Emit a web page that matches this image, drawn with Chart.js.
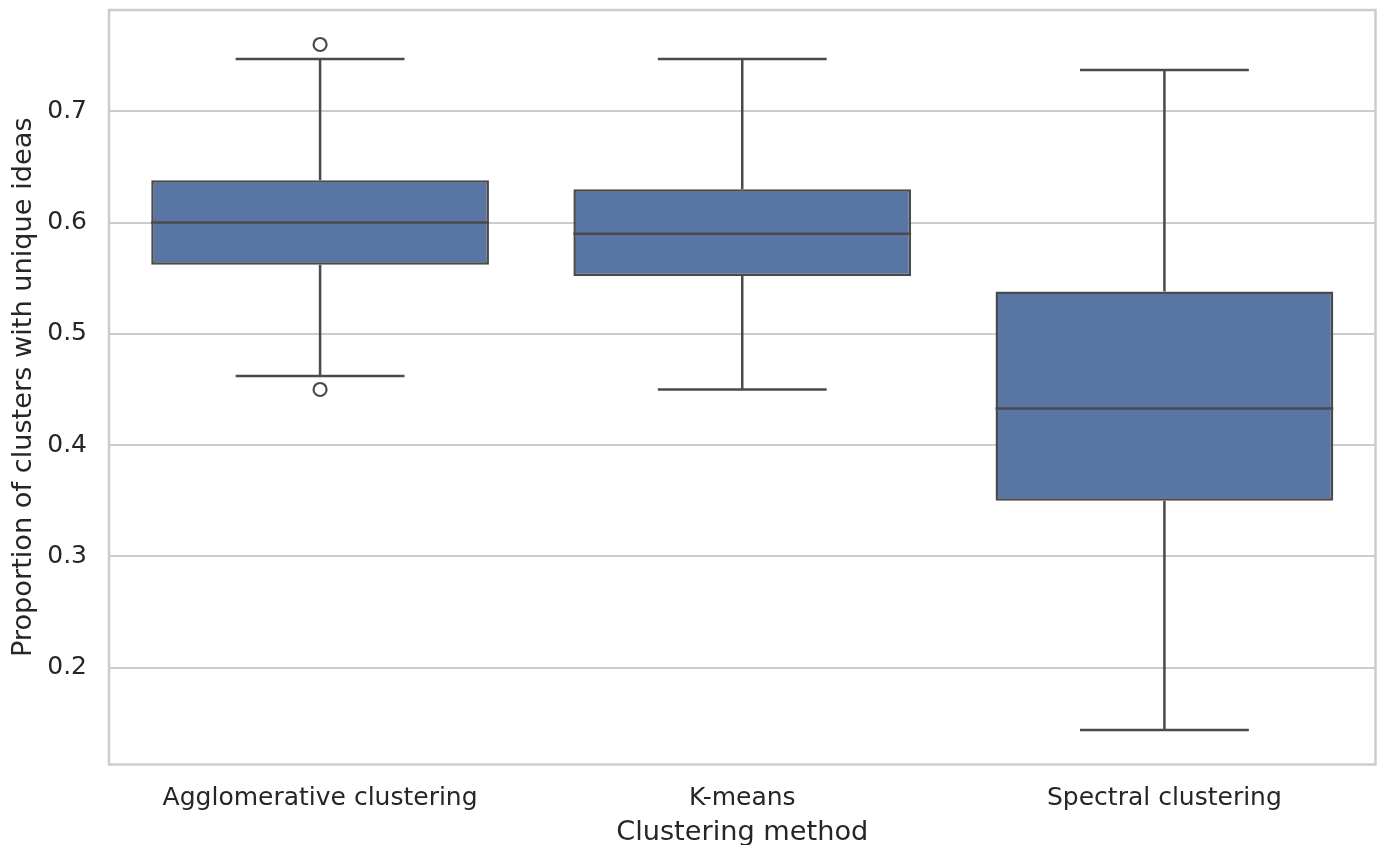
<!DOCTYPE html>
<html>
<head>
<meta charset="utf-8">
<title>Proportion of clusters with unique ideas by clustering method</title>
<script src="https://cdn.jsdelivr.net/npm/chart.js@4.4.1/dist/chart.umd.min.js"></script>
<style>
  html, body { margin: 0; padding: 0; background: #ffffff; }
  #wrap { width: 1379px; height: 845px; }
</style>
</head>
<body>
<div id="wrap"><canvas id="chart" width="1379" height="845"></canvas></div>
<script>
// Five-number summaries per clustering method
const categories  = ['Agglomerative clustering', 'K-means', 'Spectral clustering'];
const whiskerLow  = [0.462, 0.450, 0.144];
const quartile1   = [0.562, 0.552, 0.350];
const medians     = [0.600, 0.590, 0.433];
const quartile3   = [0.638, 0.630, 0.538];
const whiskerHigh = [0.747, 0.747, 0.737];

// Points beyond the whiskers
const outlierCategory = ['Agglomerative clustering', 'Agglomerative clustering'];
const outlierValues   = [0.760, 0.450];

// Value axis
const yTicks = [0.2, 0.3, 0.4, 0.5, 0.6, 0.7];
const yMin = 0.113;
const yMax = 0.791;

const BOX_FILL = '#5975a4';
const LINE = '#4a4a4a';
const GRID = '#cccccc';
const TEXT = '#262626';
const FONT = "'DejaVu Sans', sans-serif";

// Whiskers, caps and median lines, placed through the chart's scales
const boxPlotLines = {
  id: 'boxPlotLines',
  afterDatasetsDraw(chart) {
    const ctx = chart.ctx;
    const xs = chart.scales.x;
    const ys = chart.scales.y;
    const meta = chart.getDatasetMeta(0);
    ctx.save();
    ctx.strokeStyle = LINE;
    ctx.lineWidth = 2.5;
    ctx.lineCap = 'butt';
    categories.forEach((cat, i) => {
      const cx = xs.getPixelForValue(i);
      const half = meta.data[i].width / 2;
      const capHalf = half / 2;
      const yLo = ys.getPixelForValue(whiskerLow[i]);
      const yQ1 = ys.getPixelForValue(quartile1[i]);
      const yMed = ys.getPixelForValue(medians[i]);
      const yQ3 = ys.getPixelForValue(quartile3[i]);
      const yHi = ys.getPixelForValue(whiskerHigh[i]);
      ctx.beginPath();
      // whiskers
      ctx.moveTo(cx, yQ3); ctx.lineTo(cx, yHi);
      ctx.moveTo(cx, yQ1); ctx.lineTo(cx, yLo);
      // caps
      ctx.moveTo(cx - capHalf, yHi); ctx.lineTo(cx + capHalf, yHi);
      ctx.moveTo(cx - capHalf, yLo); ctx.lineTo(cx + capHalf, yLo);
      // median
      ctx.moveTo(cx - half, yMed); ctx.lineTo(cx + half, yMed);
      ctx.stroke();
    });
    ctx.restore();
  }
};

// Light grey frame round the plotting area
const plotFrame = {
  id: 'plotFrame',
  beforeDatasetsDraw(chart) {
    const a = chart.chartArea;
    const ctx = chart.ctx;
    ctx.save();
    ctx.strokeStyle = GRID;
    ctx.lineWidth = 2.5;
    ctx.strokeRect(a.left, a.top, a.right - a.left, a.bottom - a.top);
    ctx.restore();
  }
};

new Chart(document.getElementById('chart'), {
  type: 'bar',
  data: {
    labels: categories,
    datasets: [
      {
        label: 'Interquartile range',
        data: categories.map((c, i) => [quartile1[i], quartile3[i]]),
        backgroundColor: BOX_FILL,
        borderColor: LINE,
        borderWidth: 2.5,
        borderSkipped: false,
        barPercentage: 0.8,
        categoryPercentage: 1.0,
        order: 2
      },
      {
        type: 'line',
        label: 'Outliers',
        data: outlierValues.map((v, i) => ({ x: outlierCategory[i], y: v })),
        showLine: false,
        pointRadius: 6.5,
        pointBorderWidth: 2.2,
        pointBackgroundColor: 'rgba(255,255,255,0)',
        pointBorderColor: LINE,
        order: 1
      }
    ]
  },
  options: {
    responsive: false,
    devicePixelRatio: 1,
    animation: false,
    layout: { autoPadding: false, padding: { left: 0, top: 10, right: 3.5, bottom: 0 } },
    plugins: {
      legend: { display: false },
      tooltip: { enabled: false }
    },
    scales: {
      x: {
        type: 'category',
        offset: true,
        grid: { display: false, drawTicks: false },
        border: { display: false },
        ticks: {
          color: TEXT,
          padding: 19,
          font: { family: FONT, size: 25 },
          maxRotation: 0
        },
        title: {
          display: true,
          text: 'Clustering method',
          color: TEXT,
          padding: 0,
          font: { family: FONT, size: 27.2, lineHeight: 0.9 }
        },
        afterFit(scale) {
          scale.height = 80.5;
          scale.paddingLeft = 0;
          scale.paddingRight = 0;
        }
      },
      y: {
        type: 'linear',
        min: yMin,
        max: yMax,
        grid: { color: GRID, lineWidth: 2, drawTicks: false },
        border: { display: false },
        afterBuildTicks(scale) { scale.ticks = yTicks.map(v => ({ value: v })); },
        ticks: {
          color: TEXT,
          padding: 22,
          font: { family: FONT, size: 25 },
          callback: v => Number(v).toFixed(1)
        },
        title: {
          display: true,
          text: 'Proportion of clusters with unique ideas',
          color: TEXT,
          padding: { top: 10.5, bottom: 0 },
          font: { family: FONT, size: 27.2, lineHeight: 1 }
        },
        afterFit(scale) {
          scale.width = 109;
          scale.paddingTop = 0;
          scale.paddingBottom = 0;
        }
      }
    }
  },
  plugins: [plotFrame, boxPlotLines]
});
</script>
</body>
</html>
